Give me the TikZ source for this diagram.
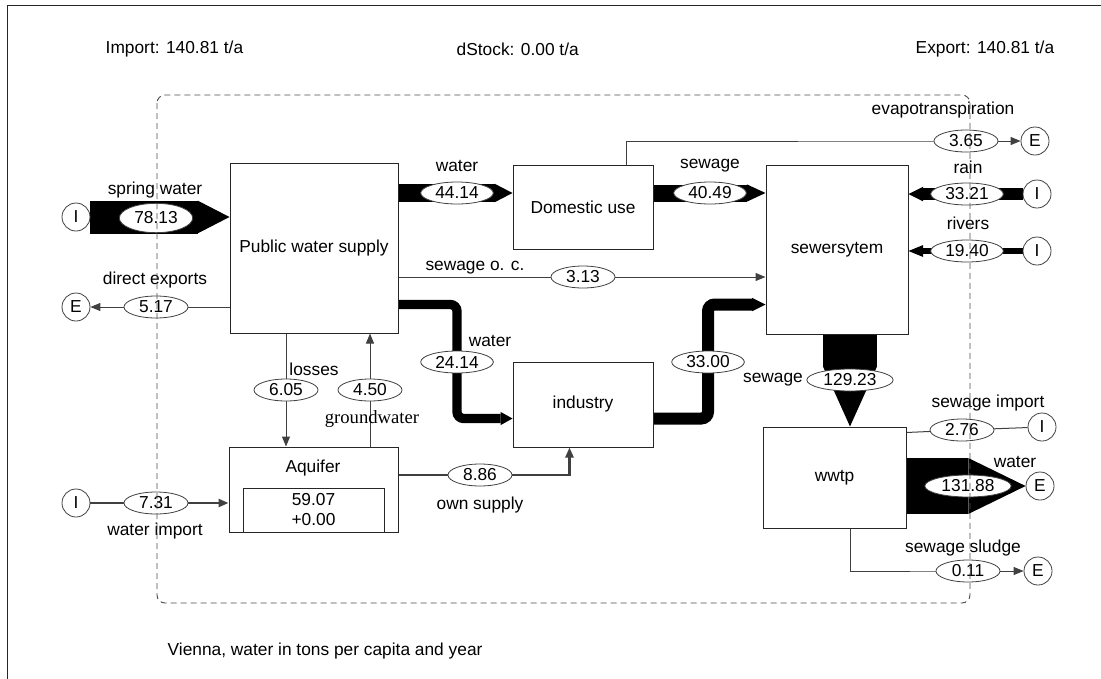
\documentclass[tikz,border=0pt]{standalone}
\usepackage{fontspec}
\setmainfont{Liberation Sans}
\newfontfamily\gwfont{Liberation Serif}
\usetikzlibrary{shapes.geometric, arrows.meta, positioning, calc}
\pgfdeclarelayer{background}
\pgfsetlayers{background,main}
\tikzset{
    process/.style={rectangle, draw=black!85, line width=0.75pt, align=center},
    io/.style={circle, draw=black!75, line width=0.6pt, minimum size=21pt, inner sep=0pt},
    value/.style={ellipse, draw=black!75, fill=white, line width=0.6pt, minimum width=48pt, minimum height=16.5pt, inner xsep=3pt, inner ysep=1pt},
    flowname/.style={inner sep=1pt},
    flowline/.style={draw=black!75, line width=0.75pt},
    flowarrow/.style={flowline, -{Triangle[length=7.5pt,width=6pt]}},
    band/.style n args={3}{draw=black, line width=#1, -{Triangle[length=#2,width=#3,line width=0pt]}}
}
\begin{document}
\begin{tikzpicture}[x=0.75pt, y=-0.75pt, font=\fontsize{13}{15}\selectfont]
    \useasboundingbox (0,0) rectangle (1101,679);
    \draw[black!85, line width=0.75pt] (7,679) -- (7,5) -- (1101,5);

    % balance
    \node[anchor=west] (imp) at (101,49) {Import: 140.81 t/a};
    \node[anchor=west] (dst) at (452,49) {dStock: 0.00 t/a};
    \node[anchor=west] (exp) at (911,49) {Export: 140.81 t/a};
    \node[anchor=west] (cap) at (163,651) {Vienna, water in tons per capita and year};

    % processes
    \node[process, minimum width=126pt, minimum height=127.5pt] (pws) at (314,248) {Public water supply};
    \node[process, minimum width=105pt, minimum height=63pt] (dom) at (583,207) {Domestic use};
    \node[process, minimum width=106.5pt, minimum height=126.75pt] (sew) at (837,249.5) {sewersytem};
    \node[process, minimum width=105pt, minimum height=63.75pt] (ind) at (583,404.5) {industry};
    \node[process, minimum width=126.75pt, minimum height=63.75pt] (aq) at (313.5,489.5) {};
    \node[process, minimum width=107.25pt, minimum height=75.75pt] (wwtp) at (834.5,477.5) {wwtp};
    \node (aqname) at (313,468) {Aquifer};
    \node[process, anchor=south, minimum width=105.75pt, minimum height=33pt, inner sep=0pt] (stock) at (aq.south) {59.07\\+0.00};

    % imports and exports
    \node[io] (Isp) at (76,217) {I};
    \node[io] (Edx) at (76,307) {E};
    \node[io] (Iwi) at (76,503) {I};
    \node[io] (Eev) at (1035,141) {E};
    \node[io] (Ira) at (1037,194) {I};
    \node[io] (Iri) at (1037,251) {I};
    \node[io] (Isi) at (1042,427) {I};
    \node[io] (Ewa) at (1040,486) {E};
    \node[io] (Esl) at (1038,571) {E};

    % flow values
    \node[value, minimum width=55pt, minimum height=22pt] (v7813) at (156,218) {78.13};
    \node[value] (v517) at (156,307) {5.17};
    \node[value] (v731) at (156,503) {7.31};
    \node[value] (v4414) at (457,193) {44.14};
    \node[value] (v4049) at (710,193) {40.49};
    \node[value] (v313) at (583,277) {3.13};
    \node[value] (v365) at (966,141) {3.65};
    \node[value] (v3321) at (967,194) {33.21};
    \node[value] (v1940) at (967,251) {19.40};
    \node[value] (v2414) at (457,362) {24.14};
    \node[value] (v3300) at (708,362) {33.00};
    \node[value] (v605) at (286,390) {6.05};
    \node[value] (v450) at (370,390) {4.50};
    \node[value] (v886) at (480,475) {8.86};
    \node[value] (v12923) at (850,380) {129.23};
    \node[value] (v276) at (962,430) {2.76};
    \node[value] (v13188) at (968,486) {131.88};
    \node[value] (v011) at (968,571) {0.11};

    % flow names
    \node[flowname] at (155,190) {spring water};
    \node[flowname] at (155,280) {direct exports};
    \node[flowname] at (155,531) {water import};
    \node[flowname] at (457,166) {water};
    \node[flowname] at (710,166) {sewage};
    \node[flowname] at (475,268) {sewage o. c.};
    \node[flowname] at (943,110) {evapotranspiration};
    \node[flowname] at (968,167) {rain};
    \node[flowname] at (968,223) {rivers};
    \node[flowname] at (490,341) {water};
    \node[flowname] at (314,369) {losses};
    \node[flowname, font=\gwfont\fontsize{14}{16}\selectfont] at (372,419) {groundwater};
    \node[flowname] at (480,505) {own supply};
    \node[flowname] at (773,380) {sewage};
    \node[flowname] at (988,403) {sewage import};
    \node[flowname] at (1015,462) {water};
    \node[flowname] at (963,548) {sewage sludge};

    \begin{pgfonlayer}{background}
        % wide flows
        \draw[band={24.75pt}{24pt}{24.75pt}] (Isp) -- (pws.west |- Isp);
        \draw[band={13.5pt}{13.5pt}{14pt}] (pws.east |- v4414) -- (dom.west |- v4414);
        \draw[band={12.75pt}{14pt}{13pt}] (dom.east |- v4049) -- (sew.west |- v4049);
        \draw[band={9pt}{11pt}{11pt}] (Ira) -- (sew.east |- Ira);
        \draw[band={4.5pt}{11pt}{9pt}] (Iri) -- (sew.east |- Iri);
        \draw[band={7pt}{9pt}{10pt}, rounded corners=5pt] ($(pws.north east)+(0,142)$) -| (v2414.center) |- ($(ind.south west)+(0,-29)$);
        \draw[band={9pt}{10pt}{10pt}, rounded corners=5pt] ($(ind.south east)+(0,-29)$) -| (v3300.center) |- ($(sew.north west)+(0,140)$);
        \draw[band={40.5pt}{45pt}{40.5pt}] (sew.south -| v12923) -- (wwtp.north -| v12923);
        \draw[band={42pt}{43pt}{42pt}] (wwtp.east |- Ewa) -- (Ewa);
        % thin flows
        \draw[flowarrow] (pws.west |- Edx) -- (Edx);
        \draw[flowarrow] (pws.east |- v313) -- (sew.west |- v313);
        \draw[flowarrow] ($(dom.north east)+(-27,0)$) |- (v365.center) -- (Eev);
        \draw[flowarrow] (pws.south -| v605) -- (aq.north -| v605);
        \draw[flowarrow] (aq.north -| v450) -- (pws.south -| v450);
        \draw[flowarrow, line width=1.8pt] (Iwi) -- (aq.west |- Iwi);
        \draw[flowarrow, line width=1.8pt] (aq.east |- v886) -| ($(ind.south west)+(57,0)$);
        \draw[flowline] (Isi) -- (v276.center) -- ($(wwtp.north east)+(0,6)$);
        \draw[flowarrow] (wwtp.south -| v12923) |- (v011.center) -- (Esl);
    \end{pgfonlayer}

    % system boundary
    \draw[black!70, line width=0.7pt, dash pattern=on 4.5pt off 3pt, rounded corners=6pt] (157,95) rectangle (970,603);
\end{tikzpicture}
\end{document}
